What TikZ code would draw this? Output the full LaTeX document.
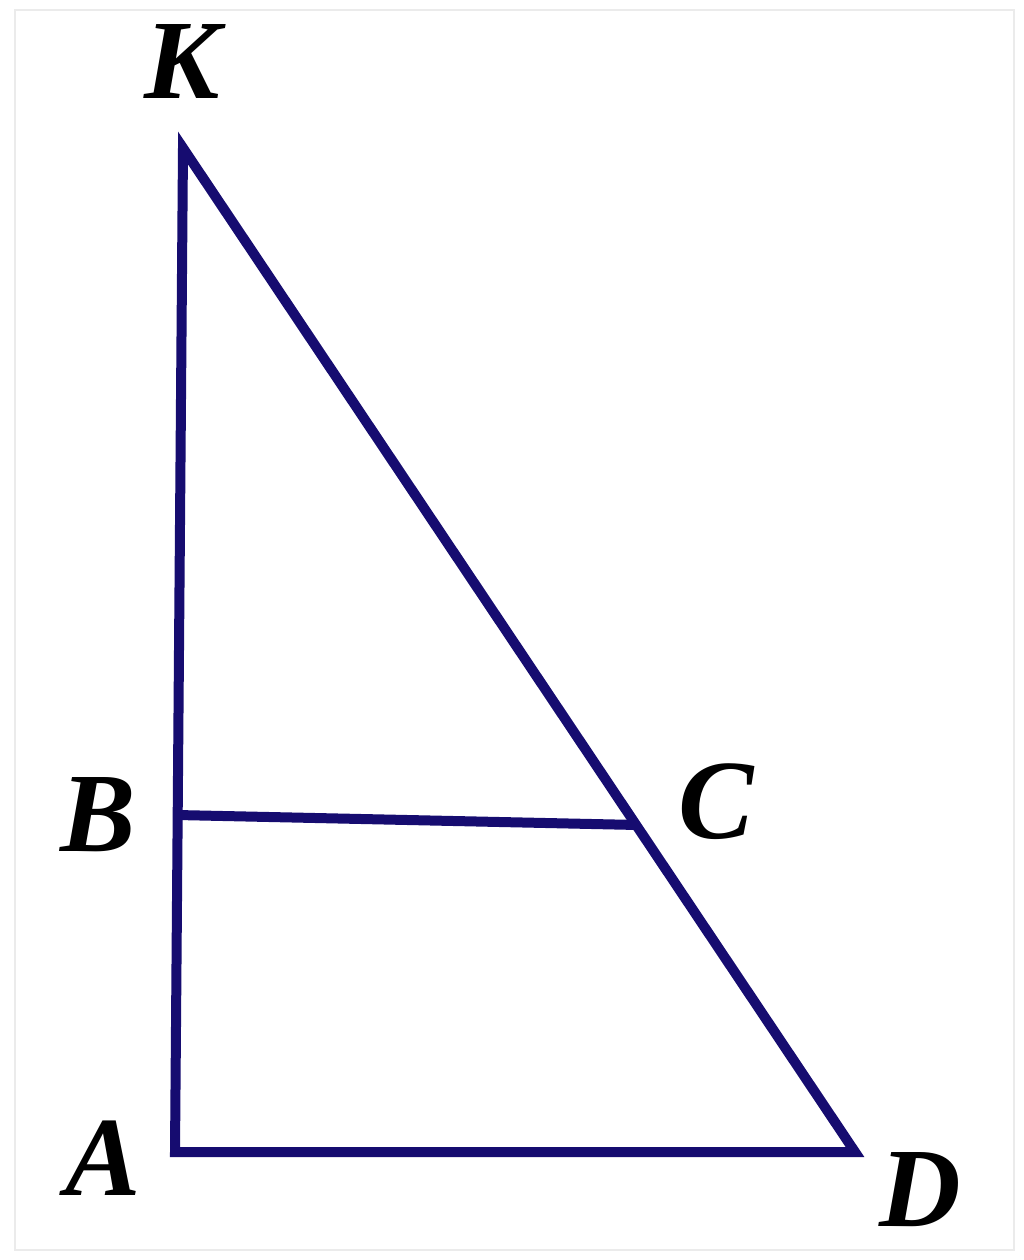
\documentclass[tikz,border=0pt]{standalone}
\usepackage{fontspec}
\setmainfont{Liberation Serif}
\definecolor{navy}{RGB}{22,12,112}
\begin{document}
\begin{tikzpicture}[x=1pt,y=-1pt,
  seg/.style={draw=navy,line width=10pt,line join=miter},
  lbl/.style={font=\fontsize{113}{113}\selectfont\bfseries\itshape,inner sep=0pt,anchor=center}]
\useasboundingbox (0,0) rectangle (1024,1260);
\draw[black!8,line width=1.5pt] (15,10) rectangle (1014,1250);
\coordinate (K) at (183,148);
\coordinate (A) at (175,1152);
\coordinate (D) at (855,1152);
\coordinate (B) at (177,815);
\coordinate (C) at (638,825);
\draw[seg] (K) -- (A) -- (D) -- cycle;
\draw[seg] (B) -- (C);
\node[lbl] (lK) at (182,62) {K};
\node[lbl] (lB) at (98,815) {B};
\node[lbl] (lC) at (716,802) {C};
\node[lbl] (lA) at (103,1158) {A};
\node[lbl] (lD) at (920,1190) {D};
\end{tikzpicture}
\end{document}
